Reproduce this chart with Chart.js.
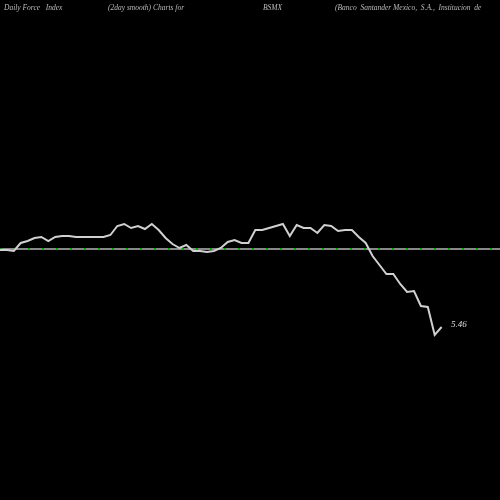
<!DOCTYPE html>
<html><head><meta charset="utf-8">
<script src="https://cdn.jsdelivr.net/npm/chart.js@4"></script>
<style>
body{margin:0;background:#000;width:500px;height:500px;overflow:hidden;position:relative}
.t{position:absolute;top:3px;font:italic 7.5px "Liberation Serif",serif;color:#bbb;white-space:nowrap}
#lbl{position:absolute;left:451px;top:319px;font:italic 9px "Liberation Serif",serif;color:#ddd}
</style></head><body>
<canvas id="c" width="500" height="500"></canvas>
<div class="t" style="left:4px">Daily Force&nbsp;&nbsp; Index</div>
<div class="t" style="left:108px">(2day smooth) Charts for</div>
<div class="t" style="left:263px">BSMX</div>
<div class="t" style="left:335px">(Banco&nbsp; Santander Mexico,&nbsp; S.A.,&nbsp; Institucion&nbsp; de</div>
<div id="lbl">5.46</div>
<script>
// smoothed force index, one value per day (pixel offsets above/below zero line)
const forceValues=[-1,-1,-2,6,8,11,12,8,12,13,13,12,12,12,12,12,14,23,25,21,23,20,25,19,11,5,1,4,-2,-2,-3,-2,1,7,9,6,6,19,19,21,23,25,13,24,21,21,16,24,23,18,19,19,12,6,-7,-16,-25,-25,-35,-43,-42,-57,-58,-86,-78];
const days=forceValues.map((_,i)=>i);
const xs=days.map(d=>d*6.9);
new Chart(document.getElementById("c"),{
  type:"line",
  data:{datasets:[
    {data:forceValues.map((v,i)=>({x:xs[i],y:v})),borderColor:"#d0d0d0",borderWidth:2,pointRadius:0,tension:0,order:0},
    {data:[{x:0,y:0},{x:500,y:0}],borderColor:"#0a0",borderWidth:2,borderDash:[2,12],pointRadius:0,order:1},
    {data:[{x:0,y:0},{x:500,y:0}],borderColor:"#888",borderWidth:2,pointRadius:0,order:2}
  ]},
  options:{responsive:false,animation:false,layout:{padding:0},
    plugins:{legend:{display:false},tooltip:{enabled:false}},
    scales:{x:{type:"linear",min:0,max:500,display:false},y:{min:-251,max:249,display:false}}}
});
</script></body></html>
